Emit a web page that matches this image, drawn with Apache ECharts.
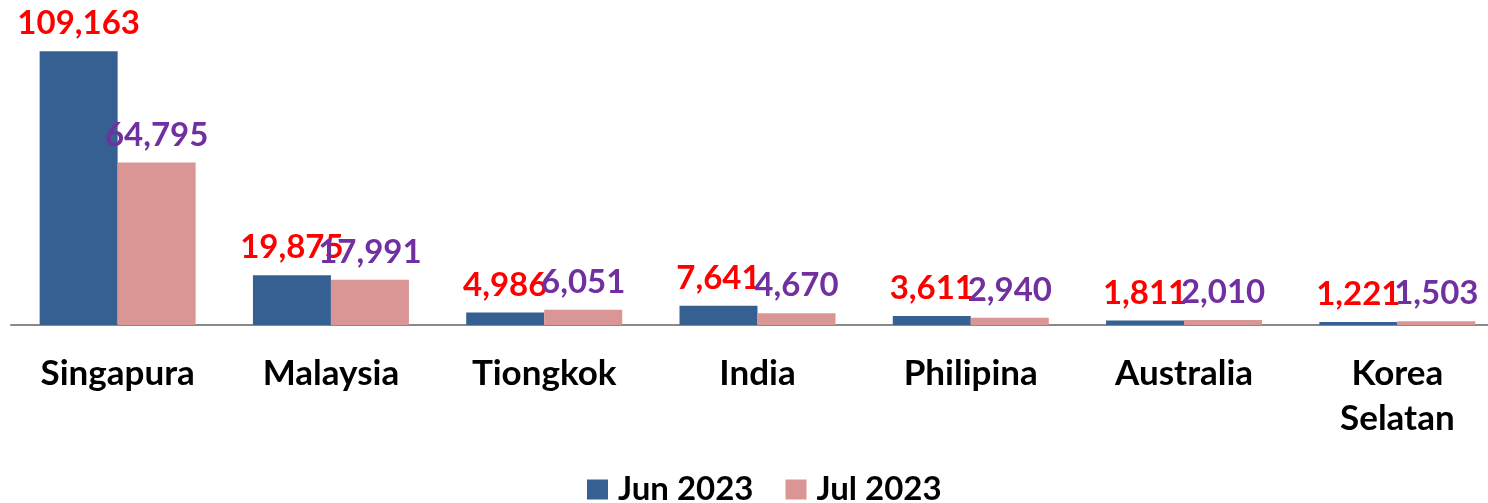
<!DOCTYPE html>
<html>
<head>
<meta charset="utf-8">
<script src="https://cdn.jsdelivr.net/npm/echarts@6/dist/echarts.min.js"></script>
<style>
html,body{margin:0;padding:0;background:#fff;}
#chart{width:1488px;height:503px;}
</style>
</head>
<body>
<div id="chart"></div>
<script>
const categories = ['Singapura', 'Malaysia', 'Tiongkok', 'India', 'Philipina', 'Australia', 'Korea\nSelatan'];
const seriesNames = ['Jun 2023', 'Jul 2023'];
const jun2023 = [109163, 19875, 4986, 7641, 3611, 1811, 1221];
const jul2023 = [64795, 17991, 6051, 4670, 2940, 2010, 1503];

const FONT = 'Lato, "Open Sans", sans-serif';
const fmt = v => v.toLocaleString('en-US');

const chart = echarts.init(document.getElementById('chart'), null, {renderer: 'canvas'});
chart.setOption({
  animation: false,
  backgroundColor: '#ffffff',
  grid: {left: 11, top: 24, width: 1493, height: 301, containLabel: false, outerBoundsMode: 'none'},
  legend: {
    data: seriesNames,
    bottom: -8,
    left: 582,
    icon: 'rect',
    itemWidth: 21,
    itemHeight: 20,
    itemGap: 32,
    textStyle: {fontFamily: FONT, fontWeight: 'bold', fontSize: 33, color: '#000', padding: [0, 0, 0, 5]}
  },
  xAxis: {
    type: 'category',
    data: categories,
    axisLine: {show: true, lineStyle: {color: '#898989', width: 2}},
    axisTick: {show: false},
    axisLabel: {
      interval: 0,
      margin: 26,
      fontFamily: FONT,
      fontWeight: 'bold',
      fontSize: 35,
      lineHeight: 45,
      color: '#000'
    }
  },
  yAxis: {
    type: 'value',
    min: 0,
    max: 120000,
    show: false,
    splitLine: {show: false}
  },
  series: [
    {
      name: seriesNames[0],
      type: 'bar',
      data: jun2023,
      barWidth: 78,
      barGap: '0%',
      itemStyle: {color: '#376092'},
      label: {
        show: true,
        position: 'top',
        distance: 11,
        formatter: p => fmt(p.value),
        fontFamily: FONT,
        fontWeight: 'bold',
        fontSize: 33,
        color: '#ff0000'
      }
    },
    {
      name: seriesNames[1],
      type: 'bar',
      data: jul2023,
      barWidth: 78,
      barGap: '0%',
      itemStyle: {color: '#d99694'},
      label: {
        show: true,
        position: 'top',
        distance: 11,
        formatter: p => fmt(p.value),
        fontFamily: FONT,
        fontWeight: 'bold',
        fontSize: 33,
        color: '#7030a0'
      }
    }
  ]
});
</script>
</body>
</html>
